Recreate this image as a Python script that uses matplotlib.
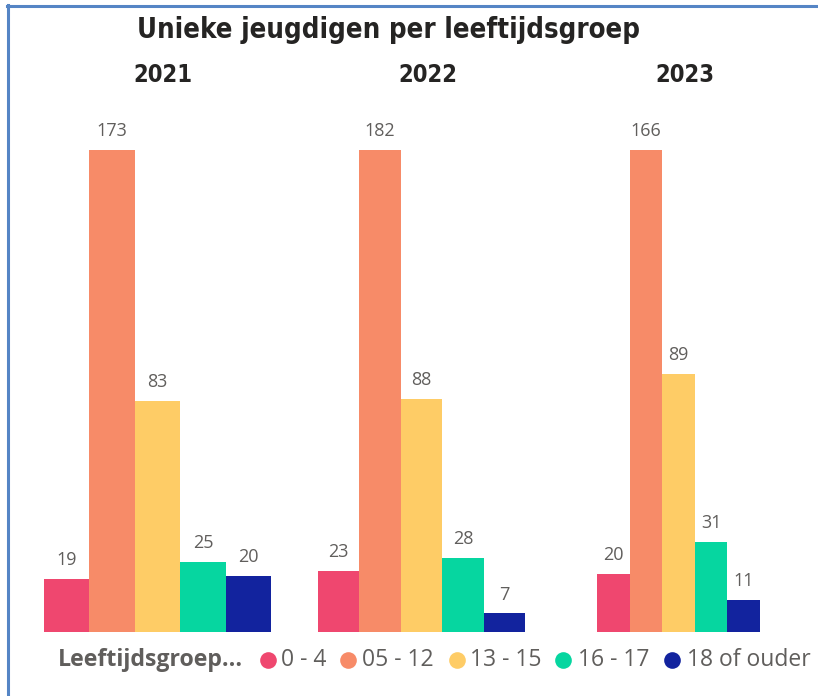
import matplotlib
matplotlib.use("Agg")
from matplotlib import pyplot as plt
from matplotlib.lines import Line2D

# data
years = ["2021", "2022", "2023"]
age_groups = ["0 - 4", "05 - 12", "13 - 15", "16 - 17", "18 of ouder"]
values_2021 = [19, 173, 83, 25, 20]
values_2022 = [23, 182, 88, 28, 7]
values_2023 = [20, 166, 89, 31, 11]
colors = ["#EF476F", "#F78B68", "#FECC66", "#06D6A0", "#12239E"]

W, H = 818, 696
LABEL_GREY = "#605E5C"
DARK = "#252423"
HEAD_FONT = ["Liberation Sans Narrow", "DejaVu Sans"]
BODY_FONT = ["Open Sans", "DejaVu Sans"]


def fx(px):
    return px / W


def fy(py):
    return 1 - py / H


fig = plt.figure(figsize=(W / 100, H / 100), dpi=100)

# blue frame at top and left
fig.add_artist(Line2D([fx(7), 1], [fy(5.5), fy(5.5)], color="#5585C5", lw=2.2))
fig.add_artist(Line2D([fx(7.5), fx(7.5)], [fy(5), 0], color="#5585C5", lw=2.2))

fig.text(fx(137), fy(30), "Unieke jeugdigen per leeftijdsgroep", family=HEAD_FONT,
         fontstretch="condensed", fontweight="bold", fontsize=19.8, color=DARK,
         ha="left", va="center")

# panel extents in pixels (left, right) and year title centres
panels = [(44, 271, 163), (318, 525, 428), (597, 760, 685)]
all_values = [values_2021, values_2022, values_2023]
baseline, top = 632, 150

for (left, right, title_x), year, vals in zip(panels, years, all_values):
    ax = fig.add_axes([fx(left), fy(baseline), fx(right - left), (baseline - top) / H])
    x = range(len(vals))
    bars = ax.bar(x, vals, width=1.0, color=colors, edgecolor="none")
    ax.set_xlim(-0.5, len(vals) - 0.5)
    ax.set_ylim(0, max(vals))
    for b, v in zip(bars, vals):
        ax.annotate(str(v), (b.get_x() + b.get_width() / 2, v), xytext=(0, 10),
                    textcoords="offset points", ha="center", va="baseline",
                    fontsize=13, color=LABEL_GREY, family=BODY_FONT, clip_on=False)
    ax.axis("off")
    fig.text(fx(title_x), fy(75), year, family=HEAD_FONT, fontstretch="condensed",
             fontweight="bold", fontsize=17, color=DARK, ha="center", va="center")

# legend along the bottom, laid out by hand like the Power BI legend
legend_y = 660
fig.text(fx(58), fy(legend_y), "Leeftijdsgroep...", family=BODY_FONT, fontweight="bold",
         fontsize=16.7, color=LABEL_GREY, ha="left", va="center")
marker_x = [268, 348, 456.5, 563, 671.5]
text_x = [281, 362, 470, 578, 687]
for mx, tx, label, c in zip(marker_x, text_x, age_groups, colors):
    fig.add_artist(Line2D([fx(mx)], [fy(legend_y)], marker="o", linestyle="none",
                          markersize=12, markerfacecolor=c, markeredgecolor="none"))
    fig.text(fx(tx), fy(legend_y), label, family=BODY_FONT, fontsize=16.5,
             color=LABEL_GREY, ha="left", va="center")

fig.savefig("out.png", dpi=100)
